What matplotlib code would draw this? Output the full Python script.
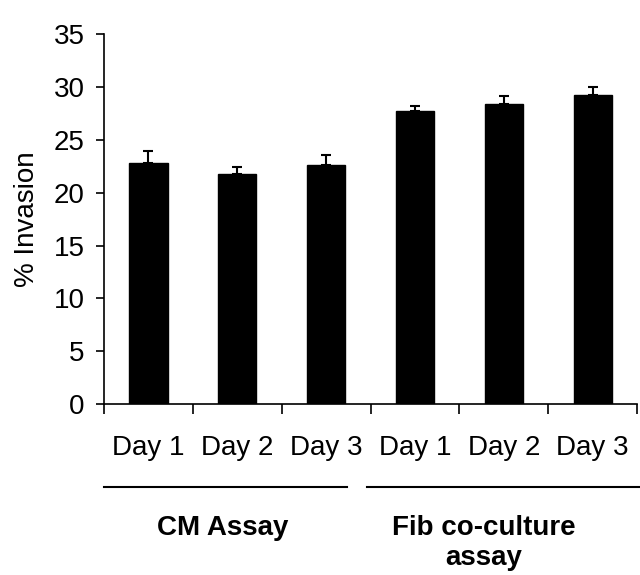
import matplotlib.pyplot as plt
import numpy as np

# values
days = ["Day 1", "Day 2", "Day 3", "Day 1", "Day 2", "Day 3"]
invasion = [22.8, 21.8, 22.6, 27.7, 28.4, 29.2]
errors = [1.1, 0.6, 1.0, 0.5, 0.7, 0.8]
groups = ["CM Assay", "Fib co-culture\nassay"]

plt.rcParams['font.family'] = ['Liberation Sans', 'DejaVu Sans']

fig = plt.figure(figsize=(6.4, 5.75), dpi=100)
ax = fig.add_axes([0.1625, 0.297, 0.833, 0.644])

x = np.arange(len(days))
ax.bar(x, invasion, width=0.43, color="black", edgecolor="black")
ax.errorbar(x, invasion, yerr=[np.zeros(len(errors)), errors], fmt="none",
            ecolor="black", elinewidth=1.5, capsize=3.5, capthick=1.5)

ax.set_xlim(-0.5, len(days) - 0.5)
ax.set_ylim(0, 35)
ax.set_yticks(np.arange(0, 36, 5))
ax.tick_params(axis="y", labelsize=20, length=6, width=1.2, direction="out", pad=8)

# ticks at the category boundaries, labels at the centres
ax.set_xticks(np.arange(-0.5, len(days), 1.0))
ax.set_xticklabels([])
ax.set_xticks(x, minor=True)
ax.set_xticklabels(days, minor=True)
ax.tick_params(axis="x", which="major", length=7, width=1.2, direction="out")
ax.tick_params(axis="x", which="minor", length=0, labelsize=20, pad=22)

ax.spines["top"].set_visible(False)
ax.spines["right"].set_visible(False)
ax.spines["left"].set_linewidth(1.2)
ax.spines["bottom"].set_linewidth(1.2)

ax.set_ylabel("% Invasion", fontsize=20, labelpad=10)

# group brackets under the tick labels
trans = ax.get_xaxis_transform()
ax.plot([-0.5, 2.24], [-0.224, -0.224], color="black", lw=1.5, transform=trans, clip_on=False)
ax.plot([2.46, 5.55], [-0.224, -0.224], color="black", lw=1.5, transform=trans, clip_on=False)
ax.text(0.84, -0.30, groups[0], transform=trans, ha="center", va="top",
        fontsize=20, fontweight="bold")
ax.text(3.77, -0.30, groups[1], transform=trans, ha="center", va="top",
        fontsize=20, fontweight="bold", linespacing=1.2)

fig.savefig("out.png", dpi=100)
